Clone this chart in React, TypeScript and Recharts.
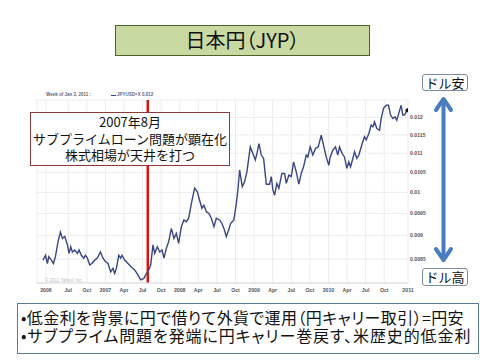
import { LineChart, Line, XAxis, YAxis, CartesianGrid, ReferenceLine } from "recharts"

// decimal years
const weeks = [
  2006.161, 2006.194, 2006.220, 2006.238, 2006.274, 2006.301, 2006.328, 2006.363, 2006.395, 2006.422,
  2006.453, 2006.489, 2006.511, 2006.534, 2006.556, 2006.587, 2006.624, 2006.645, 2006.677, 2006.708,
  2006.731, 2006.758, 2006.789, 2006.820, 2006.856, 2006.892, 2006.933, 2006.968, 2007.000, 2007.035,
  2007.071, 2007.102, 2007.125, 2007.148, 2007.179, 2007.206, 2007.223, 2007.259, 2007.304, 2007.349,
  2007.394, 2007.438, 2007.474, 2007.519, 2007.551, 2007.573,
  2007.609, 2007.640, 2007.663, 2007.699, 2007.730, 2007.761, 2007.788, 2007.820, 2007.851, 2007.887,
  2007.922, 2007.954, 2007.985, 2008.022, 2008.056, 2008.089, 2008.120, 2008.156, 2008.200, 2008.237,
  2008.267, 2008.298, 2008.325, 2008.358, 2008.392, 2008.425, 2008.460, 2008.492, 2008.536, 2008.567,
  2008.594, 2008.626, 2008.657, 2008.684, 2008.728, 2008.761, 2008.782, 2008.805, 2008.841, 2008.872,
  2008.903, 2008.949, 2008.984, 2009.016, 2009.038, 2009.065, 2009.097, 2009.128, 2009.164, 2009.208,
  2009.231, 2009.253, 2009.276, 2009.306, 2009.333, 2009.374, 2009.410, 2009.433, 2009.468, 2009.500,
  2009.531, 2009.567, 2009.602, 2009.634, 2009.665, 2009.702, 2009.723, 2009.755, 2009.790, 2009.827,
  2009.863, 2009.903, 2009.934, 2009.970, 2010.005, 2010.024, 2010.059, 2010.095, 2010.126, 2010.149,
  2010.185, 2010.216, 2010.247, 2010.274, 2010.297, 2010.328, 2010.351, 2010.382, 2010.409, 2010.454,
  2010.485, 2010.508, 2010.543, 2010.575, 2010.597, 2010.620, 2010.651, 2010.687, 2010.710, 2010.741,
  2010.777, 2010.808, 2010.835, 2010.866, 2010.898, 2010.919, 2010.946, 2010.978, 2011.000, 2011.023,
  2011.046, 2011.063,
]

const jpyusd = [
  0.00848, 0.00858, 0.00841, 0.00855, 0.00848, 0.00841, 0.00855, 0.00887, 0.00908, 0.00894,
  0.00898, 0.00880, 0.00862, 0.00876, 0.00865, 0.00869, 0.00862, 0.00869, 0.00858, 0.00852,
  0.00858, 0.00852, 0.00838, 0.00841, 0.00848, 0.00852, 0.00865, 0.00852, 0.00845, 0.00841,
  0.00824, 0.00831, 0.00821, 0.00831, 0.00858, 0.00852, 0.00858, 0.00848, 0.00841, 0.00834,
  0.00828, 0.00818, 0.00808, 0.00811, 0.00821, 0.00824,
  0.00838, 0.00880, 0.00862, 0.00876, 0.00865, 0.00869, 0.00852, 0.00873, 0.00887, 0.00916,
  0.00894, 0.00905, 0.00883, 0.00920, 0.00935, 0.00931, 0.00939, 0.00973, 0.01010, 0.01001,
  0.00981, 0.00962, 0.00969, 0.00954, 0.00950, 0.00939, 0.00920, 0.00939, 0.00935, 0.00927,
  0.00916, 0.00898, 0.00912, 0.00927, 0.00935, 0.00973, 0.01006, 0.01056, 0.01014, 0.01026,
  0.01051, 0.01117, 0.01099, 0.01082, 0.01099, 0.01126, 0.01095, 0.01086, 0.01020, 0.01020,
  0.01039, 0.01006, 0.00993, 0.01022, 0.01010, 0.01047, 0.01047, 0.01022, 0.01043, 0.01039,
  0.01077, 0.01051, 0.01020, 0.01047, 0.01064, 0.01095, 0.01090, 0.01117, 0.01095, 0.01113,
  0.01117, 0.01149, 0.01122, 0.01090, 0.01068, 0.01090, 0.01108, 0.01117, 0.01095, 0.01117,
  0.01099, 0.01090, 0.01060, 0.01077, 0.01064, 0.01086, 0.01104, 0.01086, 0.01095, 0.01126,
  0.01145, 0.01136, 0.01154, 0.01178, 0.01173, 0.01187, 0.01168, 0.01163, 0.01197, 0.01227,
  0.01236, 0.01236, 0.01207, 0.01197, 0.01202, 0.01192, 0.01212, 0.01236, 0.01207, 0.01207,
  0.01216, 0.01221,
]

const xTicks = [
  2006.2, 2006.5, 2006.75, 2007, 2007.25, 2007.5, 2007.75, 2008, 2008.25, 2008.5,
  2008.75, 2009, 2009.25, 2009.5, 2009.75, 2010, 2010.25, 2010.5, 2010.75, 2011.07,
]
const xTickLabels = [
  "2006", "Jul", "Oct", "2007", "Apr", "Jul", "Oct", "2008", "Apr", "Jul",
  "Oct", "2009", "Apr", "Jul", "Oct", "2010", "Apr", "Jul", "Oct", "2011",
]
const yTicks = [0.0085, 0.009, 0.0095, 0.01, 0.0105, 0.011, 0.0115, 0.012]
const yTickLabels = ["0.0085", "0.009", "0.0095", "0.01", "0.0105", "0.011", "0.0115", "0.012"]

const subprimeDate = 2007.57

const data = weeks.map((w, i) => ({ week: w, rate: jpyusd[i] }))

const jp = '"Noto Sans CJK JP", sans-serif'
const palt = '"palt"'
const tickFont = { fontSize: 5.2, fill: "#555", fontWeight: "bold", fontFamily: "Liberation Sans" }

function EndDot(props: any) {
  const { cx, cy, index } = props
  if (index !== data.length - 1) return <g key={"d" + index} />
  return <circle key={"d" + index} cx={cx} cy={cy} r={2} fill="#111" />
}

export default function App() {
  return (
    <div style={{ position: "absolute", left: 0, top: 0, width: 480, height: 360, background: "#fff", overflow: "hidden" }}>
      <LineChart width={480} height={360} data={data} margin={{ top: 100, right: 42, bottom: 65, left: 37 }}>
        <CartesianGrid stroke="#ececec" strokeWidth={1} />
        <XAxis
          dataKey="week"
          type="number"
          domain={[2006.08, 2011.07]}
          allowDataOverflow
          ticks={xTicks}
          interval={0}
          height={12}
          tickSize={0}
          tickMargin={5}
          axisLine={{ stroke: "#dddddd" }}
          tick={tickFont}
          tickFormatter={(v) => xTickLabels[xTicks.indexOf(v)]}
        />
        <YAxis
          orientation="right"
          scale="log"
          domain={[0.00802, 0.01252]}
          allowDataOverflow
          ticks={yTicks}
          interval={0}
          width={30}
          tickSize={0}
          tickMargin={2}
          axisLine={false}
          tick={{ ...tickFont, textAnchor: "start" }}
          tickFormatter={(v) => yTickLabels[yTicks.indexOf(v)]}
        />
        <ReferenceLine x={subprimeDate} stroke="#e01010" strokeWidth={2.5} />
        <Line
          type="linear"
          dataKey="rate"
          stroke="#3a4683"
          strokeWidth={1.4}
          dot={EndDot}
          activeDot={false}
          isAnimationActive={false}
        />
      </LineChart>

      {/* Yahoo header and credit */}
      <div style={{ position: "absolute", left: 46, top: 92, fontSize: 4.5, fontWeight: "bold", color: "#667", fontFamily: "Liberation Sans", whiteSpace: "nowrap" }}>
        Week of Jan 3, 2011 :
      </div>
      <div style={{ position: "absolute", left: 111, top: 94.5, width: 5, height: 1.6, background: "#3a4683" }} />
      <div style={{ position: "absolute", left: 117, top: 92, fontSize: 4.5, fontWeight: "bold", color: "#667", fontFamily: "Liberation Sans", whiteSpace: "nowrap" }}>
        JPYUSD=X 0.012
      </div>
      <div style={{ position: "absolute", left: 45, top: 278, fontSize: 4.5, color: "#bbb", fontFamily: "Liberation Sans", whiteSpace: "nowrap" }}>
        © 2011 Yahoo! Inc
      </div>

      {/* title */}
      <div style={{ position: "absolute", left: 115, top: 25, width: 255, height: 31, boxSizing: "border-box", background: "#c9d9a2", border: "1px solid #4f6228", fontFamily: jp, fontFeatureSettings: palt, fontSize: 20, lineHeight: "28px", textAlign: "center", color: "#111" }}>
        日本円（JYP）
      </div>

      {/* annotation */}
      <div style={{ position: "absolute", left: 30, top: 112, width: 200, height: 54, boxSizing: "border-box", background: "#fff", border: "1px solid #8c3b3b", fontFamily: jp, fontSize: 13, lineHeight: "16.5px", textAlign: "center", color: "#111", paddingTop: 1 }}>
        <div>2007年8月</div>
        <div>サブプライムローン問題が顕在化</div>
        <div>株式相場が天井を打つ</div>
      </div>

      {/* dollar weak / strong arrow */}
      <svg style={{ position: "absolute", left: 0, top: 0 }} width={480} height={360}>
        <g stroke="#4a7dc0" strokeWidth={4} fill="none" strokeLinecap="round" strokeLinejoin="round">
          <line x1={443.5} y1={100} x2={443.5} y2={258} />
          <polyline points="436,110 443.5,99 451,110" />
          <polyline points="436,249 443.5,260 451,249" />
        </g>
      </svg>
      <div style={{ position: "absolute", left: 422, top: 74, width: 46, height: 17, boxSizing: "border-box", background: "#fff", border: "1px solid #7d8c9e", borderRadius: 3, fontFamily: jp, fontSize: 13, lineHeight: "15px", textAlign: "center", color: "#111" }}>
        ドル安
      </div>
      <div style={{ position: "absolute", left: 422, top: 268, width: 46, height: 18, boxSizing: "border-box", background: "#fff", border: "1px solid #7d8c9e", borderRadius: 3, fontFamily: jp, fontSize: 13, lineHeight: "16px", textAlign: "center", color: "#111" }}>
        ドル高
      </div>

      {/* summary box */}
      <div style={{ position: "absolute", left: 17, top: 303, width: 462, height: 51, boxSizing: "border-box", border: "1px solid #5b7a98", fontFamily: jp, fontFeatureSettings: palt, fontSize: 16, lineHeight: "18.5px", color: "#111", paddingLeft: 3, paddingTop: 3.5, whiteSpace: "nowrap" }}>
        <div style={{ letterSpacing: 0.4 }}>•低金利を背景に円で借りて外貨で運用（円キャリー取引）=円安</div>
        <div style={{ letterSpacing: 0.9 }}>•サブプライム問題を発端に円キャリー巻戻す、米歴史的低金利</div>
      </div>
    </div>
  )
}
